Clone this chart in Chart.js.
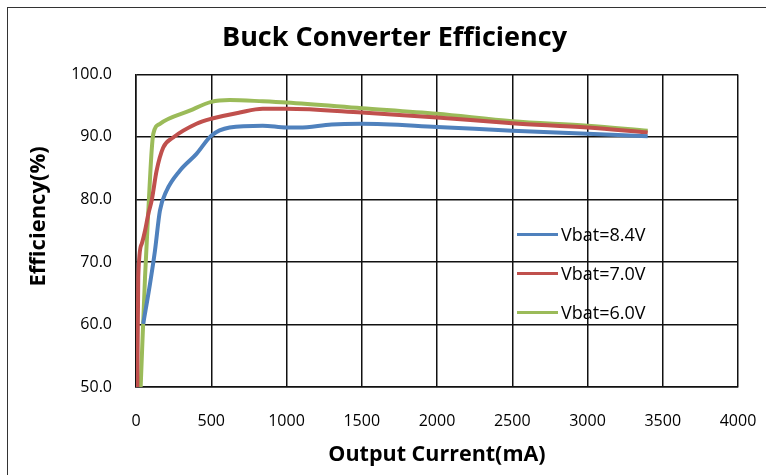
<!DOCTYPE html>
<html>
<head>
<meta charset="utf-8">
<script src="https://cdn.jsdelivr.net/npm/chart.js@4/dist/chart.umd.min.js"></script>
<style>
    html, body { margin: 0; padding: 0; background: #fff; }
    #wrap { position: relative; width: 766px; height: 475px; overflow: hidden; }
    #frame { position: absolute; left: 7px; top: 7px; width: 800px; height: 500px; border: 1px solid #333; pointer-events: none; }
    canvas { position: absolute; left: 0; top: 0; }
</style>
</head>
<body>
<div id="wrap">
    <canvas id="efficiency" width="766" height="475"></canvas>
    <div id="frame"></div>
</div>
<script>
// output current (mA) and efficiency (%)
const current84 = [48, 93, 126, 159, 203, 291, 402, 500, 622, 842, 1000, 1085, 1300, 1500, 2000, 2500, 3000, 3400];
const eff84 = [60.1, 66.5, 71.8, 78.2, 81.4, 84.6, 87.3, 90.2, 91.5, 91.8, 91.5, 91.5, 92.0, 92.1, 91.6, 91.0, 90.5, 90.1];

const current70 = [9, 15, 38, 60, 82, 104, 137, 181, 247, 402, 500, 689, 842, 1000, 1500, 2000, 2500, 3000, 3400];
const eff70 = [50.0, 67.6, 72.9, 75.0, 77.7, 79.8, 84.6, 88.3, 89.9, 92.1, 92.9, 93.9, 94.5, 94.5, 93.9, 93.1, 92.2, 91.5, 90.7];

const current60 = [31, 60, 82, 104, 115, 159, 357, 500, 622, 842, 1000, 1500, 2000, 2500, 3000, 3400];
const eff60 = [50.0, 67.6, 78.2, 87.8, 90.5, 92.1, 94.2, 95.6, 95.9, 95.7, 95.5, 94.6, 93.7, 92.5, 91.8, 91.0];

const seriesNames = ["Vbat=8.4V", "Vbat=7.0V", "Vbat=6.0V"];
const seriesColors = ["#4F81BD", "#C0504D", "#9BBB59"];

const xTicks = [0, 500, 1000, 1500, 2000, 2500, 3000, 3500, 4000];
const yTicks = [50, 60, 70, 80, 90, 100];

const FONT = "'Open Sans', Lato, sans-serif";

function toPoints(xs, ys) {
    return xs.map(function (x, i) { return {x: x, y: ys[i]}; });
}

function makeSet(i, xs, ys) {
    return {
        label: seriesNames[i],
        data: toPoints(xs, ys),
        showLine: true,
        borderColor: seriesColors[i],
        backgroundColor: seriesColors[i],
        borderWidth: 4,
        pointRadius: 0,
        cubicInterpolationMode: 'monotone',
        fill: false,
    };
}

// legend drawn inside the plot, Excel style
const insideLegend = {
    id: 'insideLegend',
    afterDatasetsDraw: function (chart) {
        const ctx = chart.ctx;
        const area = chart.chartArea;
        const x0 = area.left + 381;
        let y = area.top + 160;
        ctx.save();
        ctx.font = "18px " + FONT;
        ctx.textBaseline = 'middle';
        ctx.fillStyle = '#000';
        chart.data.datasets.forEach(function (ds) {
            ctx.strokeStyle = ds.borderColor;
            ctx.lineWidth = 3;
            ctx.beginPath();
            ctx.moveTo(x0, y);
            ctx.lineTo(x0 + 41, y);
            ctx.stroke();
            ctx.fillText(ds.label, x0 + 44, y + 1);
            y += 39;
        });
        ctx.restore();
    }
};

// y axis title sits a bit above the middle in the original
const yTitle = {
    id: 'yTitle',
    afterDraw: function (chart) {
        const ctx = chart.ctx;
        const area = chart.chartArea;
        ctx.save();
        ctx.translate(39, area.top + 142);
        ctx.rotate(-Math.PI / 2);
        ctx.font = "bold 22px " + FONT;
        ctx.fillStyle = '#000';
        ctx.textAlign = 'center';
        ctx.textBaseline = 'middle';
        ctx.fillText("Efficiency(%)", 0, 0);
        ctx.restore();
    }
};

new Chart(document.getElementById("efficiency").getContext('2d'), {
    type: 'scatter',
    data: {
        datasets: [
            makeSet(0, current84, eff84),
            makeSet(1, current70, eff70),
            makeSet(2, current60, eff60),
        ]
    },
    options: {
        animation: false,
        responsive: false,
        maintainAspectRatio: false,
        layout: {
            padding: {left: 51, right: 28, top: 0, bottom: 0}
        },
        scales: {
            x: {
                type: 'linear',
                min: 0,
                max: 4000,
                afterBuildTicks: function (scale) {
                    scale.ticks = xTicks.map(function (v) { return {value: v}; });
                },
                afterFit: function (scale) {
                    scale.height = 88;
                    scale.paddingLeft = 0;
                    scale.paddingRight = 0;
                },
                grid: {
                    color: "#111",
                    lineWidth: 1.5,
                    drawTicks: false,
                },
                border: {color: "#111", width: 1.5},
                ticks: {
                    padding: 25,
                    color: "#000",
                    maxRotation: 0,
                    font: {family: FONT, size: 16},
                    callback: function (v) { return String(v); }
                },
                title: {
                    display: true,
                    text: "Output Current(mA)",
                    color: "#000",
                    font: {family: FONT, size: 21.5, weight: 'bold'},
                    padding: {top: 7, bottom: 7},
                }
            },
            y: {
                type: 'linear',
                min: 50,
                max: 100,
                afterBuildTicks: function (scale) {
                    scale.ticks = yTicks.map(function (v) { return {value: v}; });
                },
                afterFit: function (scale) {
                    scale.width = 85;
                    scale.paddingTop = 0;
                    scale.paddingBottom = 0;
                },
                grid: {
                    color: "#111",
                    lineWidth: 1.5,
                    drawTicks: false,
                },
                border: {color: "#111", width: 1.5},
                ticks: {
                    padding: 24,
                    color: "#000",
                    font: {family: FONT, size: 16},
                    callback: function (v) { return v.toFixed(1); }
                },
                title: {display: false}
            }
        },
        plugins: {
            legend: {display: false},
            tooltip: {enabled: false},
            title: {
                display: true,
                text: "Buck Converter Efficiency",
                color: "#000",
                font: {family: FONT, size: 27, weight: 'bold'},
                padding: {top: 22, bottom: 20},
            }
        }
    },
    plugins: [insideLegend, yTitle]
});
</script>
</body>
</html>
